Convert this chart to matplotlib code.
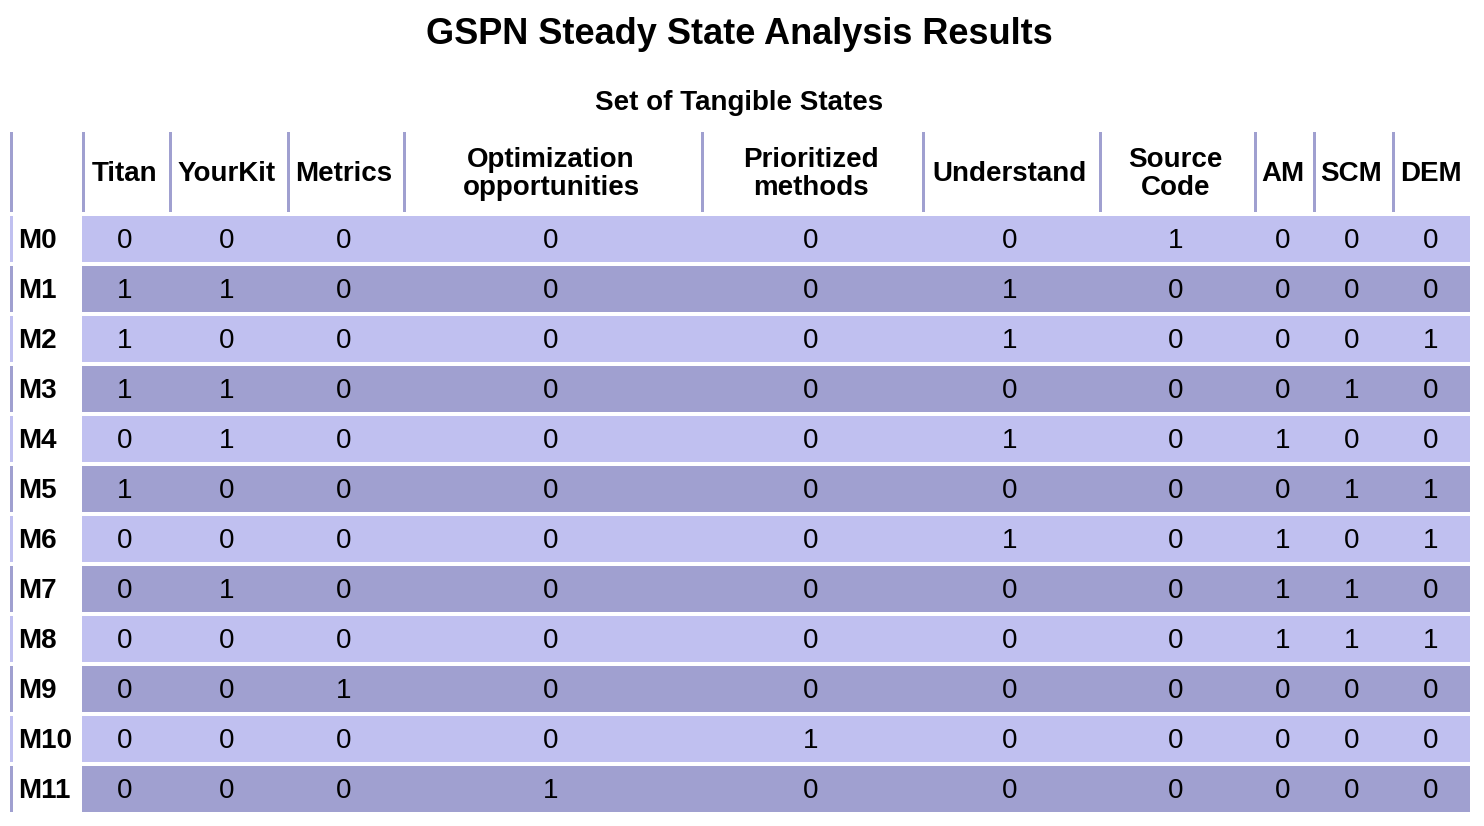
#!/usr/bin/env python3

import matplotlib.pyplot as plt
from matplotlib.patches import Rectangle

plt.rcParams['font.family'] = ['Liberation Sans', 'DejaVu Sans']

columns = ['Titan', 'YourKit', 'Metrics', 'Optimization\nopportunities',
           'Prioritized\nmethods', 'Understand', 'Source\nCode', 'AM', 'SCM', 'DEM']
row_labels = ['M%d' % i for i in range(12)]
values = [
    [0, 0, 0, 0, 0, 0, 1, 0, 0, 0],
    [1, 1, 0, 0, 0, 1, 0, 0, 0, 0],
    [1, 0, 0, 0, 0, 1, 0, 0, 0, 1],
    [1, 1, 0, 0, 0, 0, 0, 0, 1, 0],
    [0, 1, 0, 0, 0, 1, 0, 1, 0, 0],
    [1, 0, 0, 0, 0, 0, 0, 0, 1, 1],
    [0, 0, 0, 0, 0, 1, 0, 1, 0, 1],
    [0, 1, 0, 0, 0, 0, 0, 1, 1, 0],
    [0, 0, 0, 0, 0, 0, 0, 1, 1, 1],
    [0, 0, 1, 0, 0, 0, 0, 0, 0, 0],
    [0, 0, 0, 0, 1, 0, 0, 0, 0, 0],
    [0, 0, 0, 1, 0, 0, 0, 0, 0, 0],
]

# column edges in pixels (label column first)
col_edges = [10, 80, 167, 285, 401, 699, 920, 1097, 1252, 1311, 1390, 1470]
light = '#c0c0f0'
dark = '#a0a0d0'

fig = plt.figure(figsize=(14.84, 8.26), dpi=100)
ax = fig.add_axes([0, 0, 1, 1])
ax.set_xlim(0, 1484)
ax.set_ylim(826, 0)
ax.axis('off')

ax.text(739, 35, 'GSPN Steady State Analysis Results', ha='center', va='center',
        fontsize=26, fontweight='bold')
ax.text(739, 103, 'Set of Tangible States', ha='center', va='center',
        fontsize=20, fontweight='bold')

# header
for j in range(len(col_edges) - 1):
    x0 = col_edges[j] if j == 0 else col_edges[j] + 2
    ax.add_patch(Rectangle((x0, 132), 3, 80, color=dark, lw=0))
    if j > 0:
        cx = (col_edges[j] + 2 + col_edges[j + 1]) / 2
        ax.text(cx, 174, columns[j - 1], ha='center', va='center', fontsize=20,
                fontweight='bold', linespacing=1.1)

# body
for i, row in enumerate(values):
    top = 216 + 50 * i
    c = light if i % 2 == 0 else dark
    ax.add_patch(Rectangle((10, top), 3, 46, color=c, lw=0))
    ax.text(18, top + 25, row_labels[i], ha='left', va='center', fontsize=20,
            fontweight='bold')
    ax.add_patch(Rectangle((82, top), 1470 - 82, 46, color=c, lw=0))
    for j, v in enumerate(row):
        cx = (col_edges[j + 1] + 2 + col_edges[j + 2]) / 2
        ax.text(cx, top + 25, str(v), ha='center', va='center', fontsize=20)

fig.savefig('out.png', dpi=100)
